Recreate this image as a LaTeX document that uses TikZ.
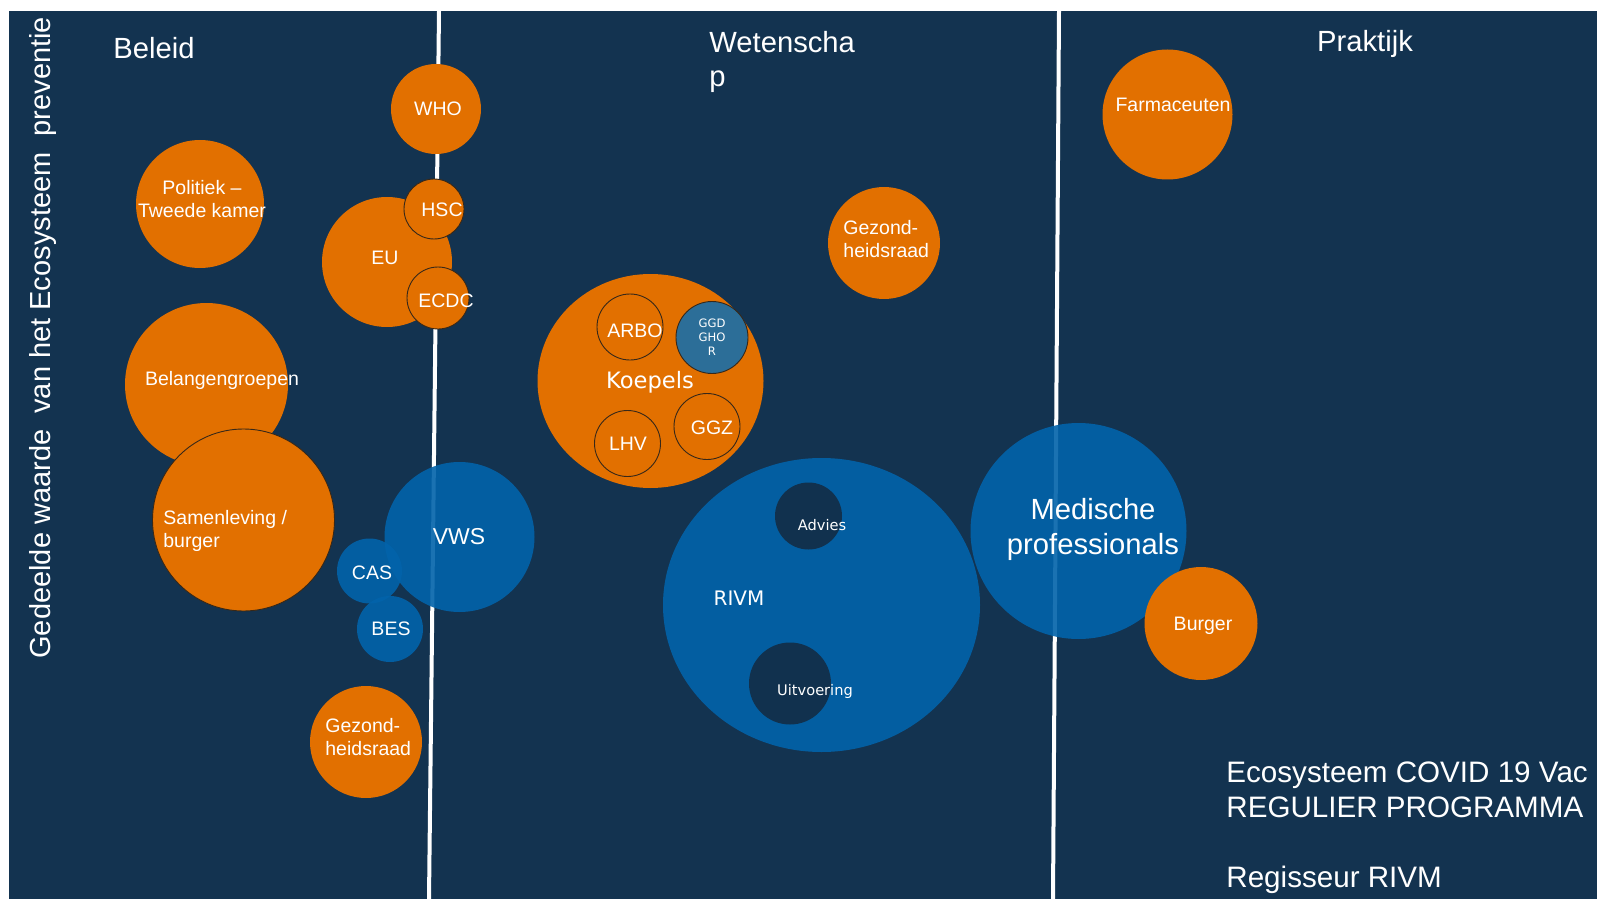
\documentclass[tikz,border=0pt]{standalone}
\usepackage{fontspec}
\setmainfont{Liberation Sans}
\newfontfamily\dejavu{DejaVu Sans}
\usetikzlibrary{shapes.geometric}
\definecolor{navyc}{RGB}{19,51,80}
\definecolor{orangec}{RGB}{226,112,0}
\definecolor{bluec}{RGB}{2,99,170}
\definecolor{ggdc}{RGB}{44,110,152}
\definecolor{darkc}{RGB}{17,49,78}
\definecolor{rimc}{RGB}{55,40,25}
\begin{document}
\begin{tikzpicture}[x=0.5pt,y=-0.5pt,
  orb/.style={circle, inner sep=0pt, fill=orangec},
  rim/.style={draw=rimc, line width=0.45pt},
  bluedot/.style={circle, inner sep=0pt, fill=bluec, fill opacity=0.9},
  darkdot/.style={circle, inner sep=0pt, fill=darkc},
  lbl/.style={text=white, inner sep=0pt, font=\fontsize{9.75}{11.5}\selectfont},
  vlbl/.style={text=white, inner sep=0pt, font=\dejavu\fontsize{7.3}{9}\selectfont},
  head/.style={text=white, inner sep=0pt, font=\fontsize{14.6}{17}\selectfont},
  sepline/.style={white, line width=2pt}]
\useasboundingbox (0,0) rectangle (1602,899);
\fill[white] (0,0) rectangle (1602,899);
\fill[navyc] (9,11) rectangle (1597,899);
\begin{scope}
\clip (9,11) rectangle (1597,899);
% separators
\coordinate (s1t) at (439,11); \coordinate (s1b) at (429,899);
\coordinate (s2t) at (1059,11); \coordinate (s2b) at (1053,899);
\draw[sepline] (s1t) -- (s1b);
\draw[sepline] (s2t) -- (s2b);
% headings
\node[head, anchor=base] (beleid) at (154,59) {Beleid};
\node[head, anchor=north west, align=left] (wetenschap) at (709,31) {Wetenscha\\p};
\node[head, anchor=base] (praktijk) at (1365,52) {Praktijk};
\node[text=white, inner sep=0pt, font=\fontsize{14.5}{17}\selectfont, rotate=90, anchor=base west] (axis) at (50,659) {Gedeelde waarde\ \ van het Ecosysteem\ \ preventie};
% orange circles, left
\node[orb, minimum size=45pt] (who) at (436,109) {};
\node[orb, minimum size=64pt] (politiek) at (200,204) {};
\node[orb, minimum size=65pt] (eu) at (387,262) {};
\node[orb, rim, minimum size=30pt] (hsc) at (434,209) {};
\node[orb, rim, minimum size=31pt] (ecdc) at (438,298) {};
\node[orb, minimum size=81.5pt] (belang) at (206.5,384.5) {};
\node[orb, rim, minimum size=91pt] (samen) at (243.5,520) {};
\node[orb, minimum size=56pt] (gezl) at (366,742) {};
% Koepels
\node[ellipse, inner sep=0pt, fill=orangec, minimum width=113pt, minimum height=107pt] (koepels) at (650.5,381) {};
\node[orb, rim, minimum size=33pt] (arbo) at (630,327) {};
\node[circle, inner sep=0pt, fill=ggdc, rim, minimum size=36pt] (ggd) at (712,337.5) {};
\node[orb, rim, minimum size=33pt] (lhv) at (627.5,443.5) {};
\node[orb, rim, minimum size=33pt] (ggz) at (707,426.5) {};
% other orange
\node[orb, minimum size=56pt] (gezm) at (884,243) {};
\node[orb, minimum size=65pt] (farma) at (1167.5,114.5) {};
% blue
\node[bluedot, minimum size=75pt] (vws) at (459.5,537) {};
\node[bluedot, minimum size=32.5pt] (cas) at (369.5,571) {};
\node[bluedot, minimum size=33pt] (bes) at (390,629) {};
\node[ellipse, inner sep=0pt, fill=bluec, fill opacity=0.9, minimum width=158.5pt, minimum height=147pt] (rivm) at (821.5,605) {};
\node[darkdot, minimum size=33.5pt] (advies) at (808.5,516) {};
\node[darkdot, minimum size=41pt] (uitv) at (790,683.5) {};
\node[bluedot, minimum size=108pt] (medisch) at (1078.5,531) {};
\node[orb, minimum size=56.5pt] (burger) at (1201,623.5) {};
% labels
\node[lbl, anchor=base] (twho) at (438,116) {WHO};
\node[lbl, anchor=north, align=center] (tpol) at (202,180) {Politiek –\\Tweede kamer};
\node[lbl, anchor=base] (teu) at (385,264) {EU};
\node[lbl, anchor=base] (thsc) at (442,216) {HSC};
\node[lbl, anchor=base] (tecdc) at (446,307) {ECDC};
\node[lbl, anchor=base] (tbel) at (222,385) {Belangengroepen};
\node[lbl, anchor=north west, align=left] (tsam) at (163,510) {Samenleving /\\burger};
\node[lbl, anchor=north west, align=left] (tgezl) at (325,718) {Gezond-\\heidsraad};
\node[lbl, anchor=base, font=\fontsize{11.5}{13}\selectfont] (tvws) at (459,544) {VWS};
\node[lbl, anchor=base] (tcas) at (372,579) {CAS};
\node[lbl, anchor=base] (tbes) at (391,635) {BES};
\node[lbl, anchor=base, font=\dejavu\fontsize{11.3}{13}\selectfont] (tkoep) at (650,388) {Koepels};
\node[lbl, anchor=base] (tarbo) at (635,337) {ARBO};
\node[lbl, align=center, font=\dejavu\fontsize{5.8}{7}\selectfont] (tggd) at (712,337) {GGD\\GHO\\R};
\node[lbl, anchor=base] (tlhv) at (628,450) {LHV};
\node[lbl, anchor=base] (tggz) at (712,434) {GGZ};
\node[lbl, anchor=north west, align=left] (tgezm) at (843,220) {Gezond-\\heidsraad};
\node[lbl, anchor=base] (tfarma) at (1173,112) {Farmaceuten};
\node[lbl, anchor=base, font=\dejavu\fontsize{10}{12}\selectfont] (trivm) at (739,605) {RIVM};
\node[vlbl, anchor=base] (tadv) at (822,530) {Advies};
\node[vlbl, anchor=base] (tuitv) at (815,695) {Uitvoering};
\node[lbl, anchor=north, align=center, font=\fontsize{14.6}{17.5}\selectfont] (tmed) at (1093,498) {Medische\\professionals};
\node[lbl, anchor=base] (tburg) at (1203,630) {Burger};
\node[head, anchor=north west, align=left, font=\fontsize{14.8}{17.5}\selectfont] (title) at (1226,761) {Ecosysteem COVID 19 Vac\\REGULIER PROGRAMMA\\[17.5pt]Regisseur RIVM};
\end{scope}
\end{tikzpicture}
\end{document}
